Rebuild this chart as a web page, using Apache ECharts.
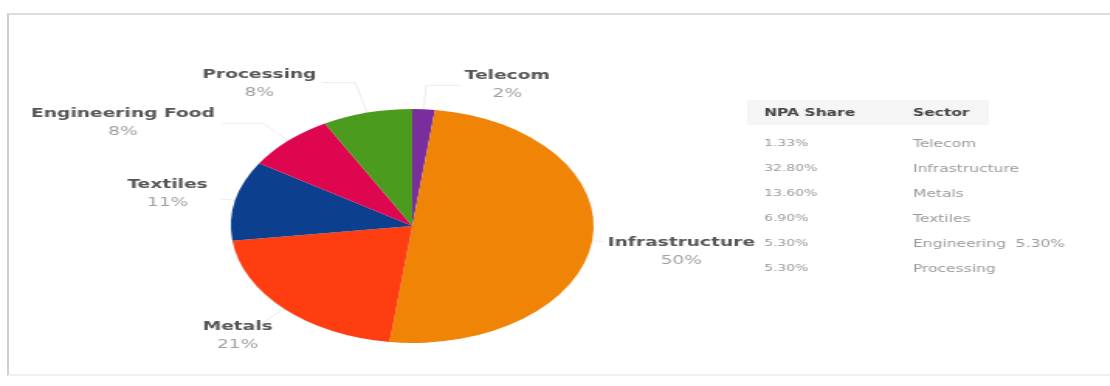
<!DOCTYPE html>
<html>
<head>
<meta charset="utf-8">
<script src="https://cdn.jsdelivr.net/npm/echarts@6/dist/echarts.min.js"></script>
<style>
  html, body { margin: 0; padding: 0; background: #fff; }
  #frame {
    position: absolute; left: 7px; top: 13px; width: 1103px; height: 359px;
    border-top: 2px solid #dcdcdc; border-left: 2px solid #cfcfcf; border-bottom: 2px solid #f0f0f0;
  }
  /* the reference picture is stretched sideways, so the chart is too */
  #main {
    position: absolute; left: 0; top: 0; width: 716px; height: 386px;
    transform: scaleX(1.55); transform-origin: 0 0;
  }
</style>
</head>
<body>
<div id="frame"></div>
<div id="main"></div>
<script>
"use strict";
let sectors = ['Telecom', 'Infrastructure', 'Metals', 'Textiles', 'Engineering Food', 'Processing'];
let shares = [2, 50, 21, 11, 8, 8];
let sliceColors = ['#7a2e9e', '#f08406', '#fe3d10', '#0c3f8e', '#df0650', '#4b9b1f'];

let tableHeader = ['NPA Share', 'Sector'];
let tableShare = ['1.33%', '32.80%', '13.60%', '6.90%', '5.30%', '5.30%'];
let tableSector = ['Telecom', 'Infrastructure', 'Metals', 'Textiles', 'Engineering  5.30%', 'Processing'];

let font = 'DejaVu Sans';

// label line lengths and small nudges per slice, so the labels sit where the picture has them
let lineLen = [[24, 22], [8, 0], [26, 0], [6, 4], [24, 26], [31, 22]];
let labelNudge = [[-2, 0], [-3, 10], [16, 9], [-3, -5], [0, 0], [2, 1]];

let myChart = echarts.init(document.getElementById('main'));

// right hand table, drawn as text
let colX = [493, 589];
let headY = 113;
let rowY0 = 144;
let rowGap = 25;
let tableItems = [{
    type: 'rect',
    shape: { x: 482, y: headY - 13, width: 156, height: 25 },
    style: { fill: '#f5f5f5' },
    silent: true
}];
tableHeader.forEach(function(h, i) {
    tableItems.push({
        type: 'text', x: colX[i], y: headY,
        style: { text: h, font: 'bold 10px ' + font, fill: '#444', textVerticalAlign: 'middle' }
    });
});
for (let r = 0; r < tableShare.length; r++) {
    tableItems.push({
        type: 'text', x: colX[0], y: rowY0 + r * rowGap,
        style: { text: tableShare[r], font: '9px ' + font, fill: '#9a9a9a', textVerticalAlign: 'middle' }
    });
    tableItems.push({
        type: 'text', x: colX[1], y: rowY0 + r * rowGap,
        style: { text: tableSector[r], font: '10px ' + font, fill: '#9a9a9a', textVerticalAlign: 'middle' }
    });
}

let option = {
    animation: false,
    color: sliceColors,
    graphic: tableItems,
    series: [{
        type: 'pie',
        center: [266, 226],
        radius: 117,
        startAngle: 90,
        clockwise: true,
        avoidLabelOverlap: true,
        data: sectors.map(function(n, i) {
            return { name: n, value: shares[i], labelLine: { length: lineLen[i][0], length2: lineLen[i][1] } };
        }),
        label: {
            show: true,
            position: 'outside',
            formatter: '{n|{b}}\n{p|{c}%}',
            rich: {
                n: { fontFamily: font, fontWeight: 'bold', fontSize: 12, color: '#555', align: 'center', lineHeight: 18 },
                p: { fontFamily: font, fontSize: 12, color: '#a0a0a0', align: 'center', lineHeight: 18 }
            }
        },
        labelLayout: function(params) {
            let d = labelNudge[params.dataIndex];
            return { dx: d[0], dy: d[1] };
        },
        labelLine: {
            show: true,
            lineStyle: { color: '#ececec', width: 1 }
        },
        itemStyle: { borderWidth: 0 },
        emphasis: { disabled: true }
    }]
};
myChart.setOption(option);
</script>
</body>
</html>
